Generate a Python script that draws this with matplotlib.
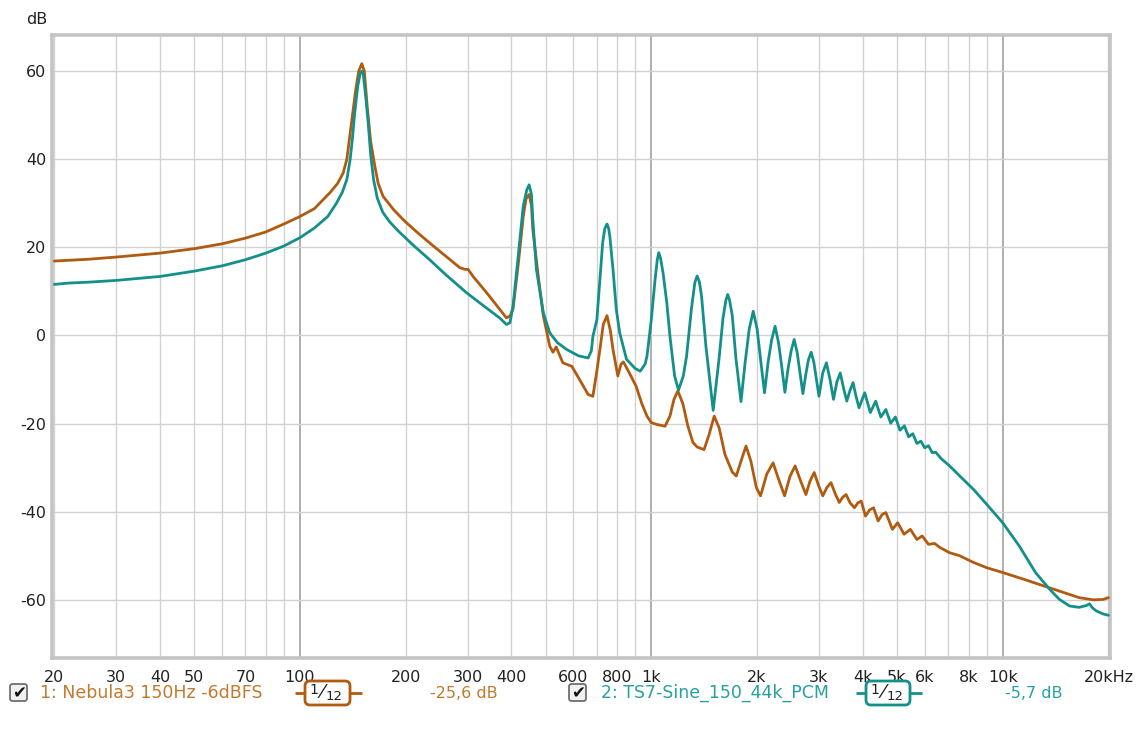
import matplotlib
matplotlib.use("Agg")
import matplotlib.pyplot as plt
from matplotlib.patches import FancyBboxPatch, Rectangle

# ---- measured spectra (Hz, dB), 1/12 octave smoothing ----
nebula_freq = [20, 25, 30, 40, 50, 60, 70, 80, 90, 100, 110, 121.7, 128, 132.8, 136,
               138.5, 141, 144, 147, 150, 152.5, 155.4, 159, 163.4, 167, 172.4, 185,
               199, 215, 234, 260, 285, 295, 301, 311, 340, 370, 387, 396, 404, 418,
               432, 440, 449, 456, 460, 478, 493, 514, 525, 536, 560, 594, 625, 661,
               682, 700, 714, 730, 748, 765, 778, 803, 820, 833, 866, 905, 940, 972,
               1000, 1038, 1094, 1130, 1160, 1190, 1230, 1270, 1314, 1350, 1413, 1460,
               1510, 1560, 1620, 1700, 1745, 1800, 1860, 1920, 1990, 2046, 2130, 2221,
               2300, 2395, 2480, 2566, 2660, 2754, 2830, 2908, 2990, 3076, 3160, 3247,
               3340, 3427, 3505, 3584, 3680, 3785, 3870, 3957, 4070, 4180, 4290, 4420,
               4540, 4650, 4855, 5025, 5240, 5460, 5700, 5900, 6150, 6400, 6620, 7060,
               7550, 8250, 9000, 10000, 11450, 13050, 14900, 16500, 18100, 19300, 20000]
nebula_db = [16.9, 17.3, 17.8, 18.7, 19.7, 20.8, 22.1, 23.5, 25.3, 27.0, 28.8, 32.4, 34.5,
             36.9, 40.0, 45.0, 50.0, 55.5, 60.0, 61.7, 60.0, 52.0, 44.0, 38.4, 34.5, 31.6,
             28.5, 25.9, 23.5, 21.0, 18.0, 15.4, 15.0, 15.0, 13.4, 9.7, 6.0, 4.0, 4.4, 6.0,
             16.0, 27.0, 31.0, 32.0, 29.5, 24.0, 12.7, 4.4, -2.4, -3.8, -2.6, -6.2, -7.0,
             -10.0, -13.4, -13.8, -8.0, -3.2, 2.5, 4.5, 1.0, -3.2, -9.2, -6.5, -6.0, -8.5,
             -11.5, -15.5, -18.3, -19.8, -20.2, -20.6, -18.3, -14.5, -12.6, -15.5, -20.5,
             -24.3, -25.3, -25.9, -22.5, -18.3, -21.0, -27.0, -31.0, -31.9, -28.5, -25.1,
             -28.5, -34.5, -36.4, -31.5, -28.9, -32.5, -36.4, -32.0, -29.6, -33.0, -36.1,
             -33.0, -31.1, -34.0, -36.4, -34.5, -33.4, -36.0, -37.9, -36.7, -36.1, -38.0,
             -39.1, -38.0, -37.6, -41.0, -39.6, -39.1, -42.1, -40.6, -40.2, -44.0, -42.5,
             -45.1, -44.0, -46.3, -45.5, -47.4, -47.2, -48.1, -49.3, -50.0, -51.5, -52.7,
             -53.8, -55.3, -56.8, -58.3, -59.5, -60.0, -59.9, -59.5]

ts7_freq = [20, 22, 25, 30, 40, 50, 60, 70, 80, 90, 100, 110, 120, 127, 132, 136, 139,
            141, 143, 146, 148.5, 150, 151.5, 154, 156.5, 159, 162, 166, 172, 180, 190,
            210, 234, 260, 298, 340, 370, 387, 396, 404, 418, 432, 442, 449, 456, 460,
            471, 493, 514, 540, 575, 620, 661, 675, 682, 700, 714, 727, 737, 748, 756, 762,
            778, 795, 813, 850, 900, 930, 960, 972, 1000, 1025, 1040, 1050, 1062, 1080,
            1107, 1130, 1165, 1195, 1233, 1260, 1300, 1330, 1350, 1370, 1390, 1430, 1500,
            1560, 1600, 1630, 1650, 1670, 1700, 1740, 1800, 1850, 1900, 1950, 2000, 2050,
            2100, 2150, 2200, 2250, 2300, 2350, 2400, 2450, 2500, 2550, 2600, 2650, 2700,
            2750, 2800, 2850, 2900, 2950, 3000, 3075, 3150, 3225, 3300, 3375, 3450, 3525,
            3600, 3675, 3750, 3825, 3900, 4050, 4200, 4350, 4500, 4650, 4800, 4950, 5100,
            5250, 5400, 5550, 5700, 5850, 6000, 6150, 6300, 6450, 6670, 7060, 7550, 8250,
            9000, 10000, 11150, 12400, 13600, 14500, 15500, 16500, 17300, 17650, 18000,
            18450, 19300, 20000]
ts7_db = [11.6, 11.9, 12.1, 12.5, 13.4, 14.6, 15.8, 17.2, 18.7, 20.3, 22.2, 24.4, 27.0,
          30.0, 32.5, 35.4, 40.0, 44.5, 50.0, 56.5, 59.6, 60.0, 59.2, 54.0, 48.0, 41.0,
          35.4, 31.2, 28.0, 25.8, 23.8, 20.5, 17.2, 13.8, 9.7, 6.2, 4.0, 2.5, 2.9, 6.6,
          18.0, 29.3, 33.0, 34.2, 32.0, 26.3, 15.0, 5.1, 0.6, -1.6, -3.2, -4.6, -5.1,
          -3.5, -0.2, 3.6, 12.7, 21.0, 24.2, 25.3, 24.3, 22.5, 15.0, 5.9, 0.6, -5.4, -7.5,
          -8.1, -6.5, -4.7, 3.6, 12.7, 17.2, 18.8, 17.6, 14.2, 7.4, -0.2, -9.2, -12.4,
          -9.2, -4.7, 5.9, 12.0, 13.5, 12.2, 8.9, -2.4, -17.0, -5.0, 4.0, 8.0, 9.3, 8.0,
          4.5, -5.0, -15.0, -6.0, 1.5, 5.5, 1.5, -6.0, -13.0, -6.0, -1.0, 2.1, -1.5, -7.0,
          -12.9, -7.5, -3.5, -0.9, -3.8, -8.5, -13.2, -9.0, -5.5, -3.8, -6.0, -10.0,
          -13.8, -8.5, -6.2, -10.0, -14.5, -10.5, -8.5, -12.0, -14.9, -12.5, -10.7,
          -13.8, -16.4, -13.0, -17.5, -14.9, -18.5, -16.8, -19.9, -18.5, -21.5, -20.5,
          -23.0, -22.3, -24.5, -24.0, -25.5, -25.0, -26.6, -26.5, -27.9, -29.6, -31.9,
          -34.9, -38.3, -42.5, -47.8, -53.8, -57.6, -59.9, -61.4, -61.7, -61.3, -60.9,
          -61.8, -62.5, -63.2, -63.5]

x_ticks = [20, 30, 40, 50, 70, 100, 200, 300, 400, 600, 800, 1000, 2000, 3000, 4000,
           5000, 6000, 8000, 10000, 20000]
x_labels = ["20", "30", "40", "50", "70", "100", "200", "300", "400", "600", "800", "1k",
            "2k", "3k", "4k", "5k", "6k", "8k", "10k", "20kHz"]
y_ticks = [60, 40, 20, 0, -20, -40, -60]

legend_names = ["1: Nebula3 150Hz -6dBFS", "2: TS7-Sine_150_44k_PCM"]
legend_levels = ["-25,6 dB", "-5,7 dB"]

ORANGE = "#b05b10"
TEAL = "#14908b"
ORANGE_TXT = "#c27a2c"
TEAL_TXT = "#27a0a0"

W, H = 1145, 735
plt.rcParams["font.family"] = ["DejaVu Sans"]
fig = plt.figure(figsize=(W / 100, H / 100), dpi=100)
fig.patch.set_facecolor("white")

L, R, T, B = 52, 1110, 35, 658
ax = fig.add_axes([L / W, 1 - B / H, (R - L) / W, (B - T) / H])
ax.set_xscale("log")
ax.set_xlim(19.7, 20200)
ax.set_ylim(-73.2, 68.2)

# grid: every 1..9 multiple per decade, decade lines darker
for e in range(1, 5):
    for m in range(1, 10):
        f = m * 10 ** e
        if 20 <= f <= 20000:
            dark = f in (100, 1000, 10000)
            ax.axvline(f, color="#9a9a9a" if dark else "#d2d2d2",
                       lw=1.1 if dark else 1.0, zorder=1)
for yv in y_ticks:
    ax.axhline(yv, color="#d2d2d2", lw=1.0, zorder=1)

ax.plot(nebula_freq, nebula_db, color=ORANGE, lw=2.0, zorder=3,
        solid_joinstyle="round", solid_capstyle="round")
ax.plot(ts7_freq, ts7_db, color=TEAL, lw=2.0, zorder=4,
        solid_joinstyle="round", solid_capstyle="round")

ax.set_xticks(x_ticks)
ax.set_xticklabels(x_labels)
ax.xaxis.set_minor_locator(matplotlib.ticker.NullLocator())
ax.set_yticks(y_ticks)
ax.set_yticklabels([str(v) for v in y_ticks])
ax.tick_params(axis="both", length=0, labelsize=11.5, colors="#222222")
ax.tick_params(axis="x", pad=8.5)
ax.tick_params(axis="y", pad=4)
for s in ax.spines.values():
    s.set_color("#c4c4c4")
    s.set_linewidth(2.6)

# overlay in pixel coordinates for the header and the legend row
ov = fig.add_axes([0, 0, 1, 1], zorder=10)
ov.set_xlim(0, W)
ov.set_ylim(H, 0)
ov.axis("off")
ov.patch.set_alpha(0)

ov.text(37, 19, "dB", fontsize=11.5, ha="center", va="center", color="#222222")


def checkbox(x0, yc):
    box = FancyBboxPatch((x0, yc - 9), 17, 17, boxstyle="round,pad=0,rounding_size=2.5",
                         fc="#f0f0f0", ec="#6f6f6f", lw=1.3)
    ov.add_patch(box)
    ov.text(x0 + 9, yc + 0.5, "\u2714", fontsize=12, ha="center", va="center",
            color="#111111")


def badge(x0, x1, yc, color):
    ov.plot([x0, x1], [yc, yc], color=color, lw=2.0, solid_capstyle="butt")
    bx0, bx1 = x0 + 10, x1 - 12
    box = FancyBboxPatch((bx0, yc - 12), bx1 - bx0, 24,
                         boxstyle="round,pad=0,rounding_size=5",
                         fc="white", ec=color, lw=2.0, zorder=5)
    ov.add_patch(box)
    ov.text(bx0 + 9, yc - 3, "1", fontsize=10, ha="center", va="center",
            color="#222222", zorder=6)
    ov.text(bx0 + 17, yc, "\u2044", fontsize=14, ha="center", va="center",
            color="#222222", zorder=6)
    ov.text(bx0 + 29, yc + 4, "12", fontsize=9.5, ha="center", va="center",
            color="#222222", zorder=6)


yl = 693
checkbox(10, yl)
ov.text(40, yl, legend_names[0], fontsize=12.5, ha="left", va="center", color=ORANGE_TXT)
badge(295, 362, yl, ORANGE)
ov.text(430, yl, legend_levels[0], fontsize=11.5, ha="left", va="center", color=ORANGE_TXT)

checkbox(569, yl)
name2 = ov.text(601, yl, legend_names[1], fontsize=12.5, ha="left", va="center",
                color=TEAL_TXT)
clip = Rectangle((595, 670), 257, 45, transform=ov.transData)
name2.set_clip_path(clip)
badge(856, 922, yl, TEAL)
ov.text(1005, yl, legend_levels[1], fontsize=11.5, ha="left", va="center", color=TEAL_TXT)

fig.savefig("out.png", dpi=100, facecolor="white")
